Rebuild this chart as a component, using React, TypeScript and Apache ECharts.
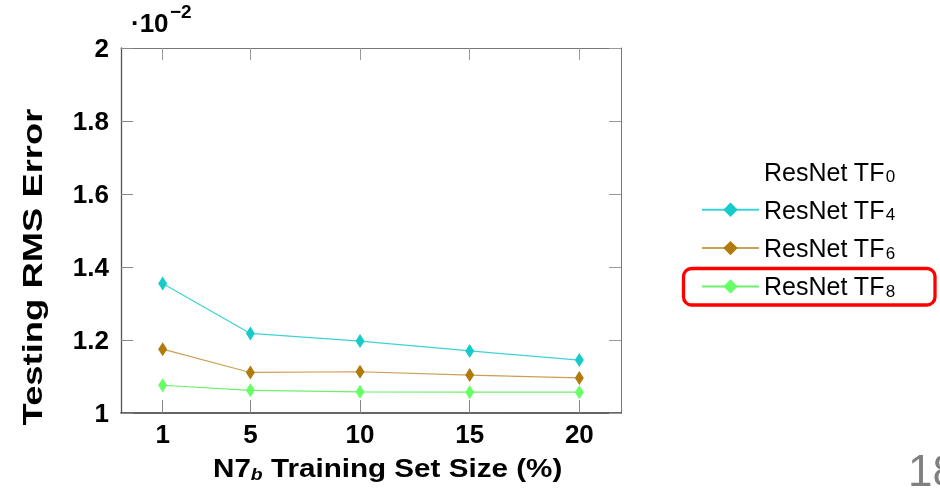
import React, { useEffect, useRef } from 'react';
import * as echarts from 'echarts';

const trainingSizes = [1, 5, 10, 15, 20];
const tf4Errors = [1.355, 1.218, 1.197, 1.17, 1.145];
const tf6Errors = [1.175, 1.111, 1.113, 1.104, 1.096];
const tf8Errors = [1.076, 1.062, 1.058, 1.057, 1.057];
const seriesNames = ['ResNet TF0', 'ResNet TF4', 'ResNet TF6', 'ResNet TF8'];
const xTickValues = [1, 5, 10, 15, 20];
const yMin = 1;
const yMax = 2;
const yStep = 0.2;

const FONT = '"Liberation Sans", Arial, Helvetica, sans-serif';

export default function App() {
  const ref = useRef<HTMLDivElement>(null);

  useEffect(() => {
    const chart = echarts.init(ref.current as HTMLDivElement, null, { renderer: 'svg' });
    const pairs = (vals: number[]) => trainingSizes.map((x, i) => [x, vals[i]]);

    const mk = (name: string, vals: number[], marker: string, line: string) => ({
      name,
      type: 'line',
      data: pairs(vals),
      symbol: 'diamond',
      symbolSize: [9, 14],
      itemStyle: { color: marker },
      lineStyle: { color: line, width: 1.2 },
      emphasis: { disabled: true },
      xAxisIndex: 0,
      yAxisIndex: 0,
    });

    const sideX = {
      type: 'value',
      min: -0.9,
      max: 21.9,
      splitLine: { show: false },
    };

    chart.setOption({
      animation: false,
      grid: { left: 121, right: 319, top: 48, bottom: 82 },
      xAxis: [
        {
          ...sideX,
          position: 'bottom',
          axisLine: { show: true, onZero: false, lineStyle: { color: '#333', width: 1.5 } },
          axisTick: {
            show: true,
            inside: true,
            length: 13,
            customValues: xTickValues,
            lineStyle: { color: '#888', width: 1 },
          },
          axisLabel: {
            customValues: xTickValues,
            fontSize: 26,
            fontWeight: 'bold',
            fontFamily: FONT,
            color: '#000',
            margin: 8,
          },
        },
        {
          ...sideX,
          position: 'top',
          axisLine: { show: true, onZero: false, lineStyle: { color: '#777', width: 1 } },
          axisTick: {
            show: true,
            inside: true,
            length: 12,
            customValues: xTickValues,
            lineStyle: { color: '#999', width: 1 },
          },
          axisLabel: { show: false },
        },
      ],
      yAxis: [
        {
          type: 'value',
          min: yMin,
          max: yMax,
          interval: yStep,
          position: 'left',
          splitLine: { show: false },
          axisLine: { show: true, onZero: false, lineStyle: { color: '#555', width: 1.3 } },
          axisTick: { show: true, inside: true, length: 12, lineStyle: { color: '#888' } },
          axisLabel: {
            fontSize: 26,
            fontWeight: 'bold',
            fontFamily: FONT,
            color: '#000',
            margin: 12,
          },
        },
        {
          type: 'value',
          min: yMin,
          max: yMax,
          interval: yStep,
          position: 'right',
          splitLine: { show: false },
          axisLine: { show: true, onZero: false, lineStyle: { color: '#777', width: 1 } },
          axisTick: { show: true, inside: true, length: 12, lineStyle: { color: '#999' } },
          axisLabel: { show: false },
        },
      ],
      legend: {
        orient: 'vertical',
        left: 696,
        top: 153,
        itemWidth: 57,
        itemHeight: 18,
        itemGap: 11.3,
        selectedMode: false,
        data: seriesNames,
        formatter: (name: string) => name.replace(/TF(\d+)/, 'TF{sub|$1}'),
        textStyle: {
          fontSize: 25,
          fontFamily: FONT,
          color: '#000',
          lineHeight: 26,
          padding: [0, 0, 0, 0],
          rich: {
            sub: { fontSize: 17, lineHeight: 16, padding: [10, 0, 0, 1], fontFamily: FONT, color: '#000' },
          },
        },
      },
      series: [
        {
          name: seriesNames[0],
          type: 'line',
          data: [],
          symbol: 'diamond',
          itemStyle: { color: 'rgba(0,0,0,0)' },
          lineStyle: { color: 'rgba(0,0,0,0)' },
        },
        mk(seriesNames[1], tf4Errors, '#17cbcb', '#3dd3d6'),
        mk(seriesNames[2], tf6Errors, '#b07a0c', '#c9a055'),
        mk(seriesNames[3], tf8Errors, '#66ff66', '#6cf06c'),
      ],
      graphic: [
        {
          type: 'text',
          x: 131,
          y: 10,
          style: { text: '·10', fontSize: 26, fontWeight: 'bold', fontFamily: FONT, fill: '#000' },
        },
        {
          type: 'text',
          x: 170,
          y: 2,
          style: { text: '−2', fontSize: 19, fontWeight: 'bold', fontFamily: FONT, fill: '#000' },
        },
        {
          type: 'text',
          x: 33,
          y: 267,
          rotation: Math.PI / 2,
          scaleX: 1.3,
          style: {
            text: 'Testing RMS Error',
            fontSize: 28,
            fontWeight: 'bold',
            fontFamily: FONT,
            fill: '#000',
            align: 'center',
            verticalAlign: 'middle',
            textAlign: 'center',
            textVerticalAlign: 'middle',
          },
        },
        {
          type: 'text',
          x: 213,
          y: 453,
          scaleX: 1.14,
          style: {
            text: 'N7{sub|b} Training Set Size (%)',
            fontSize: 26,
            fontWeight: 'bold',
            fontFamily: FONT,
            fill: '#000',
            lineHeight: 30,
            rich: {
              sub: {
                fontSize: 17,
                fontStyle: 'italic',
                fontWeight: 'bold',
                fontFamily: FONT,
                fill: '#000',
                lineHeight: 18,
                padding: [12, 0, 0, 0],
              },
            },
          },
        },
        {
          type: 'rect',
          shape: { x: 683.5, y: 268.5, width: 251.5, height: 36.5, r: 8 },
          style: { fill: 'rgba(0,0,0,0)', stroke: '#ff0000', lineWidth: 3.3 },
        },
        {
          type: 'text',
          x: 908,
          y: 448,
          style: { text: '18', fontSize: 44, fontFamily: FONT, fill: '#808080' },
        },
      ],
    });

    return () => chart.dispose();
  }, []);

  return <div ref={ref} style={{ position: 'fixed', left: 0, top: 0, width: 940, height: 495 }} />;
}
